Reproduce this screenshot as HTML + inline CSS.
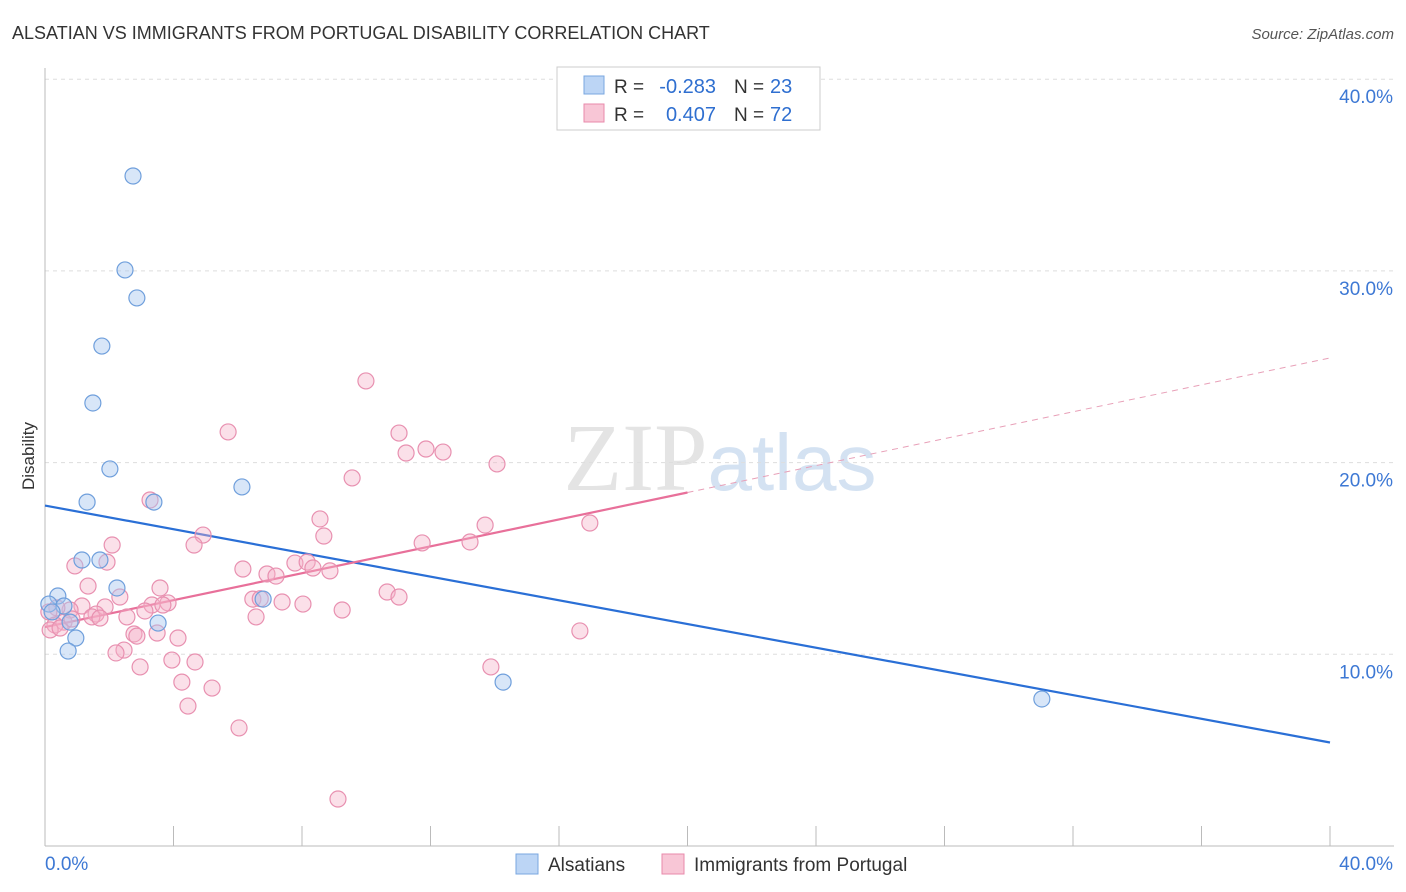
<!DOCTYPE html>
<html><head><meta charset="utf-8"><style>
body{margin:0;background:#fff;font-family:"Liberation Sans",sans-serif}
svg{display:block}
</style></head><body>
<svg id="c" width="1406" height="892">
<text x="12" y="39" font-size="18" fill="#333">ALSATIAN VS IMMIGRANTS FROM PORTUGAL DISABILITY CORRELATION CHART</text>
<text x="1394" y="39" font-size="15" fill="#555" font-style="italic" text-anchor="end">Source: ZipAtlas.com</text>
<text x="720" y="490" font-size="96" fill="#e4e4e4" text-anchor="middle" font-family="Liberation Serif">ZIP<tspan fill="#d4e2f2" font-family="Liberation Sans" font-size="80">atlas</tspan></text>
<text x="34" y="456" font-size="17" fill="#333" text-anchor="middle" transform="rotate(-90 34 456)">Disability</text>
<g id="grid"></g><g id="lines"></g><g id="pts"></g>
<g>
<rect x="557" y="67" width="263" height="63" fill="#fff" stroke="#ccc"/>
<rect x="584" y="76" width="20" height="18" fill="#bcd5f5" stroke="#7aa7e0"/>
<rect x="584" y="104" width="20" height="18" fill="#f8c6d6" stroke="#e88aab"/>
<text x="614" y="93" font-size="19" fill="#333">R =</text>
<text x="716" y="93" font-size="20" fill="#2f6fd0" text-anchor="end">-0.283</text>
<text x="734" y="93" font-size="19" fill="#333">N =</text>
<text x="770" y="93" font-size="20" fill="#2f6fd0">23</text>
<text x="614" y="121" font-size="19" fill="#333">R =</text>
<text x="716" y="121" font-size="20" fill="#2f6fd0" text-anchor="end">0.407</text>
<text x="734" y="121" font-size="19" fill="#333">N =</text>
<text x="770" y="121" font-size="20" fill="#2f6fd0">72</text>
</g>
<g>
<rect x="516" y="854" width="22" height="20" fill="#bcd5f5" stroke="#7aa7e0"/>
<text x="548" y="871" font-size="19" fill="#333">Alsatians</text>
<rect x="662" y="854" width="22" height="20" fill="#f8c6d6" stroke="#e88aab"/>
<text x="694" y="871" font-size="19" fill="#333">Immigrants from Portugal</text>
</g>
</svg>
<script>
const yTicks=[10,20,30,40];
const blueX=[2.74,2.49,2.86,1.77,1.49,2.02,1.31,3.39,6.13,1.15,1.71,2.24,0.40,0.12,0.59,0.78,3.52,0.96,0.72,6.79,14.26,31.03,0.22];
const blueY=[34.95,30.05,28.59,26.08,23.11,19.67,17.94,17.94,18.73,14.92,14.92,13.46,13.04,12.62,12.52,11.68,11.63,10.85,10.17,12.88,8.55,7.67,12.21];
const pinkX=[9.99,5.70,11.02,11.24,11.86,12.39,14.07,9.56,3.27,8.56,8.68,13.70,16.96,4.92,4.64,2.09,11.74,13.23,0.93,1.93,6.16,6.91,7.19,7.78,8.16,8.34,8.87,1.34,3.58,10.65,11.02,6.47,7.38,8.03,2.33,3.33,3.83,3.67,1.87,1.15,0.78,0.37,0.12,1.59,1.46,1.71,3.11,9.25,6.57,2.55,0.59,0.31,0.16,0.47,2.77,2.86,3.49,4.14,16.65,2.46,2.21,2.96,3.95,4.67,13.88,4.26,5.20,4.45,6.04,9.12,0.84,6.7];
const pinkY=[24.26,21.60,21.54,20.50,20.71,20.55,19.93,19.20,18.05,17.06,16.17,16.74,16.85,16.22,15.70,15.70,15.81,15.86,14.61,14.81,14.45,14.19,14.08,14.76,14.81,14.50,14.35,13.56,13.46,13.25,12.99,12.88,12.73,12.62,12.99,12.57,12.68,12.57,12.47,12.52,12.31,12.42,12.21,12.10,11.95,11.89,12.26,12.31,11.95,11.95,11.68,11.53,11.27,11.37,11.06,10.95,11.11,10.85,11.22,10.22,10.07,9.34,9.70,9.60,9.34,8.55,8.24,7.30,6.16,2.45,11.84,12.9];
const blueFit=[17.76,-0.309];
const pinkFit=[11.42,0.351];
const X=v=>45+v*1285/40, Y=v=>846-v*19.17;
const NS='http://www.w3.org/2000/svg';
function mk(p,t,a){const e=document.createElementNS(NS,t);for(const k in a)e.setAttribute(k,a[k]);p.appendChild(e);return e;}
const g=document.getElementById('grid');
yTicks.forEach(t=>{
 const l=mk(g,'line',{x1:45,x2:1394,y1:Y(t),y2:Y(t),stroke:'#ddd','stroke-dasharray':'4 4'});
 
 
 const tx=mk(g,'text',{x:1393,y:Y(t)+24,'font-size':19,fill:'#3d78d4','text-anchor':'end'});tx.textContent=t+'.0%';
 
 
});
const ax=mk(g,'line',{x1:45,x2:45,y1:68,y2:846,stroke:'#bbb'});


const bx=mk(g,'line',{x1:45,x2:1394,y1:846,y2:846,stroke:'#bbb'});


for(let i=0;i<=10;i++){const t=mk(g,'line',{x1:X(i*4),x2:X(i*4),y1:826,y2:846,stroke:'#bbb'});
 
 }
[[0,'0.0%','start',45],[40,'40.0%','end',1393]].forEach(d=>{const t=mk(g,'text',{x:d[3],y:870,'font-size':19,fill:'#3d78d4','text-anchor':d[2]});t.textContent=d[1];
 
 });
const L=document.getElementById('lines');
const bl=mk(L,'line',{x1:X(0),y1:Y(blueFit[0]),x2:X(40),y2:Y(blueFit[0]+40*blueFit[1]),stroke:'#2a6fd6','stroke-width':2.2});


const pl=mk(L,'line',{x1:X(0),y1:Y(pinkFit[0]),x2:X(20),y2:Y(pinkFit[0]+20*pinkFit[1]),stroke:'#e8709a','stroke-width':2.2});


const pd=mk(L,'line',{x1:X(20),y1:Y(pinkFit[0]+20*pinkFit[1]),x2:X(40),y2:Y(pinkFit[0]+40*pinkFit[1]),stroke:'#e8a0b8','stroke-width':1,'stroke-dasharray':'6 5'});


const P=document.getElementById('pts');
pinkX.forEach((v,i)=>{const c=mk(P,'circle',{cx:X(v),cy:Y(pinkY[i]),r:8,fill:'rgba(246,178,200,0.4)',stroke:'#e890b0','stroke-width':1.2});
 
 });
blueX.forEach((v,i)=>{const c=mk(P,'circle',{cx:X(v),cy:Y(blueY[i]),r:8,fill:'rgba(168,200,240,0.45)',stroke:'#6f9fdc','stroke-width':1.2});
 
 });
</script>
</body></html>
